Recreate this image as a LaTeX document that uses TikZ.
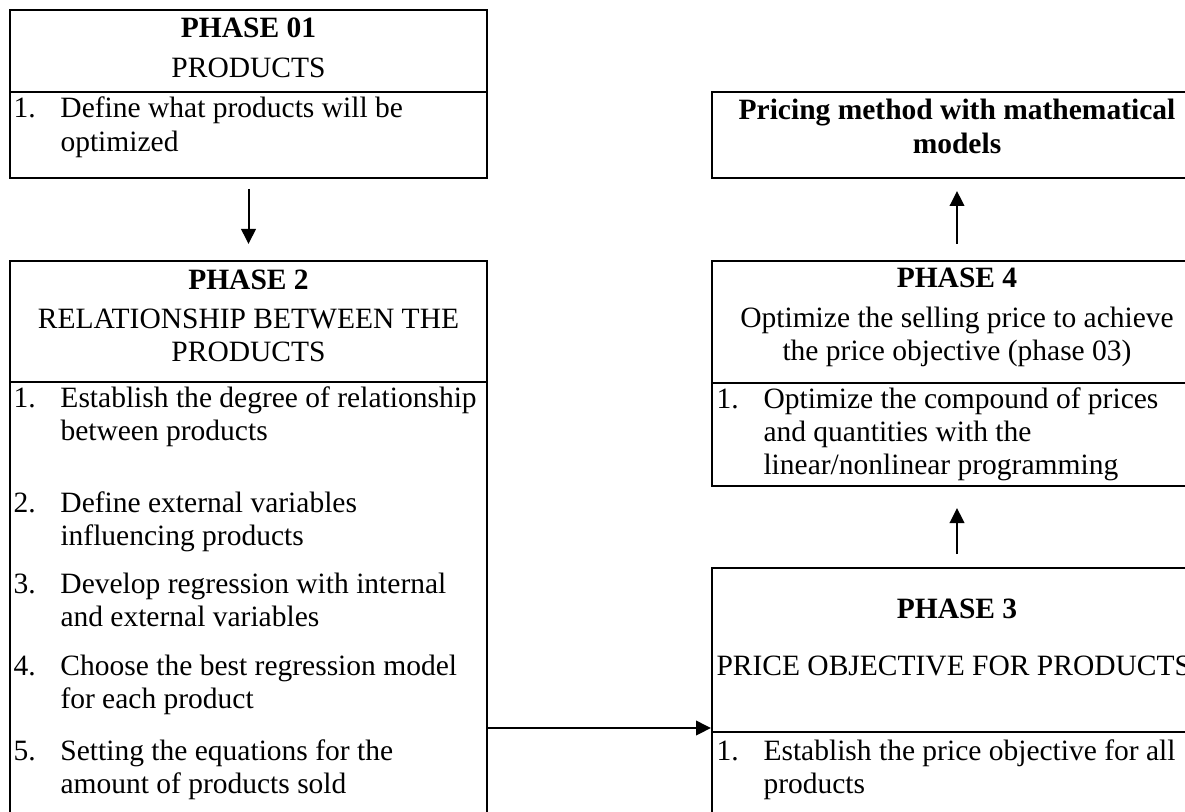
\documentclass[tikz,border=0pt]{standalone}
\usepackage{fontspec}
\setmainfont{Liberation Serif}
\usetikzlibrary{arrows.meta, positioning}
\usetikzlibrary{fit}

\begin{document}
\begin{tikzpicture}[x=0.4pt, y=-0.4pt, >={Triangle[length=6pt, width=5.8pt]},
  box/.style={draw, line width=0.8pt, inner sep=0pt},
  txt/.style={inner sep=0pt, font=\fontsize{11.8}{13.3}\selectfont},
  head/.style={txt, anchor=base, align=flush center, text width=190pt},
  item/.style={txt, anchor=base west, align=flush left, text width=230pt},
  arr/.style={->, line width=0.8pt}]
  \useasboundingbox (0,0) rectangle (1185,812);
  \clip (0,0) rectangle (1185,812);
  \fill[white] (0,0) rectangle (1185,812);

  % linke Spalte: Phase 1 und Phase 2
  \node[box, fit={(10,10) (487,92)}] (p1head) {};
  \node[box, fit={(10,92) (487,178)}] (p1body) {};
  \node[head] (p1title) at (248.5,38) {\textbf{PHASE 01}\\[2.4pt]PRODUCTS};
  \node[item] (p1item1) at (13,118) {\makebox[18.8pt][l]{1.}Define what products will be\\\hspace*{18.8pt}optimized};

  \node[box, fit={(10,261) (487,382)}] (p2head) {};
  \node[box, fit={(10,382) (487,840)}] (p2body) {};
  \node[head] (p2title) at (248.5,289) {\textbf{PHASE 2}\\[2.4pt]RELATIONSHIP BETWEEN THE\\PRODUCTS};
  \foreach \n/\y/\a/\b in {1/407/{Establish the degree of relationship}/{between products},
                           2/512/{Define external variables}/{influencing products},
                           3/593/{Develop regression with internal}/{and external variables},
                           4/675/{Choose the best regression model}/{for each product},
                           5/760/{Setting the equations for the}/{amount of products sold}} {
    \node[item] (p2item\n) at (13,\y) {\makebox[18.8pt][l]{\n.}\a\\\hspace*{18.8pt}\b};
  }

  % rechte Spalte: Ergebnis, Phase 4 und Phase 3
  \node[box, fit={(712,92) (1202,178)}] (pricing) {};
  \node[head, text width=200pt] (pricingtitle) at (957,120) {\textbf{Pricing method with mathematical}\\\textbf{models}};

  \node[box, fit={(712,261) (1202,383)}] (p4head) {};
  \node[box, fit={(712,383) (1202,486)}] (p4body) {};
  \node[head, text width=200pt] (p4title) at (957,288) {\textbf{PHASE 4}\\[2.4pt]Optimize the selling price to achieve\\the price objective (phase 03)};
  \node[item] (p4item1) at (716,408) {\makebox[18.8pt][l]{1.}Optimize the compound of prices\\\hspace*{18.8pt}and quantities with the\\\hspace*{18.8pt}linear/nonlinear programming};

  \node[box, fit={(712,568) (1202,732)}] (p3head) {};
  \node[box, fit={(712,732) (1202,840)}] (p3body) {};
  \node[head] (p3title) at (957,618) {\textbf{PHASE 3}};
  \node[txt, anchor=base west] (p3sub) at (716,675) {PRICE OBJECTIVE FOR PRODUCTS};
  \node[item] (p3item1) at (716,760) {\makebox[18.8pt][l]{1.}Establish the price objective for all\\\hspace*{18.8pt}products};

  % Verbindungen
  \draw[arr, shorten <=4pt, shorten >=6.4pt] (p1body) -- (p2head);
  \draw[arr] (p2body.east |- 0,728) -- (p3head.west |- 0,728);
  \draw[arr, shorten <=5.2pt, shorten >=8.4pt] (p3head) -- (p4body);
  \draw[arr, shorten <=6.4pt, shorten >=4.8pt] (p4head) -- (pricing);
\end{tikzpicture}
\end{document}
